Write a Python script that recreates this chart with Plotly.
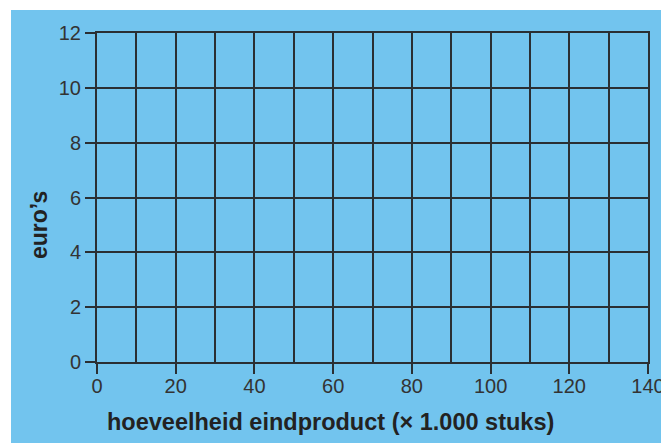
import plotly.graph_objects as go

# Axis definitions
x_range = [0, 140]
y_range = [0, 12]
x_tick_values = [0, 20, 40, 60, 80, 100, 120, 140]
x_grid_step = 10
y_tick_values = [0, 2, 4, 6, 8, 10, 12]
x_title = "hoeveelheid eindproduct (× 1.000 stuks)"
y_title = "euro’s"

BLUE = "#72C4EE"
LINE = "#2a2f33"
FONT = "Liberation Sans, Arial, sans-serif"

W, H = 661, 443
OFF = 0  # body margin removed via post_script
# plot area in screen pixels (from the reference)
SX0, SX1, SY0, SY1 = 97, 648, 33, 362
L = SX0 - OFF
T = SY0 - OFF
R = W - (SX1 - OFF)
B = H - (SY1 - OFF)
pw, ph = W - L - R, H - T - B

def px_x(p):
    return (p - OFF - L) / pw

def px_y(p):
    return (H - B - (p - OFF)) / ph

fig = go.Figure()
fig.add_trace(go.Scatter(x=[], y=[], mode="lines", showlegend=False, hoverinfo="skip"))

fig.add_shape(type="rect", xref="paper", yref="paper",
              x0=px_x(11), x1=px_x(W + 20), y0=px_y(H + 20), y1=px_y(10),
              fillcolor=BLUE, line=dict(width=0), layer="below")

fig.update_layout(
    width=W, height=H,
    margin=dict(l=L, r=R, t=T, b=B, autoexpand=False),
    paper_bgcolor="white",
    plot_bgcolor=BLUE,
    font=dict(family=FONT, color="#333333", size=20),
    showlegend=False,
)

fig.update_xaxes(
    range=x_range, tickvals=x_tick_values, automargin=False,
    showgrid=True, gridcolor=LINE, gridwidth=2,
    minor=dict(dtick=x_grid_step, tick0=0, showgrid=True, gridcolor=LINE, gridwidth=2, ticks=""),
    showline=True, mirror=True, linecolor=LINE, linewidth=2,
    ticks="outside", ticklen=10, tickwidth=2, tickcolor=LINE,
    zeroline=False, tickfont=dict(size=20, color="#333333"),
    ticklabelstandoff=-5, ticklabeloverflow="allow",
)
fig.update_yaxes(
    range=y_range, tickvals=y_tick_values, automargin=False,
    showgrid=True, gridcolor=LINE, gridwidth=2,
    showline=True, mirror=True, linecolor=LINE, linewidth=2,
    ticks="outside", ticklen=10, tickwidth=2, tickcolor=LINE,
    zeroline=False, tickfont=dict(size=20, color="#333333"),
    ticklabelstandoff=0, ticklabeloverflow="allow",
)

fig.add_annotation(text="<b>" + x_title + "</b>", xref="paper", yref="paper",
                   x=px_x(330), y=px_y(422), showarrow=False,
                   font=dict(size=23.5, color="#222222", family=FONT),
                   xanchor="center", yanchor="middle")
fig.add_annotation(text="<b>" + y_title + "</b>", xref="paper", yref="paper",
                   x=px_x(39), y=px_y(225), showarrow=False, textangle=-90,
                   font=dict(size=23, color="#222222", family=FONT),
                   xanchor="center", yanchor="middle")

fig.write_html(
    "out.html",
    config={"displayModeBar": False},
    post_script="document.body.style.margin='0';document.body.style.overflow='hidden';",
)
